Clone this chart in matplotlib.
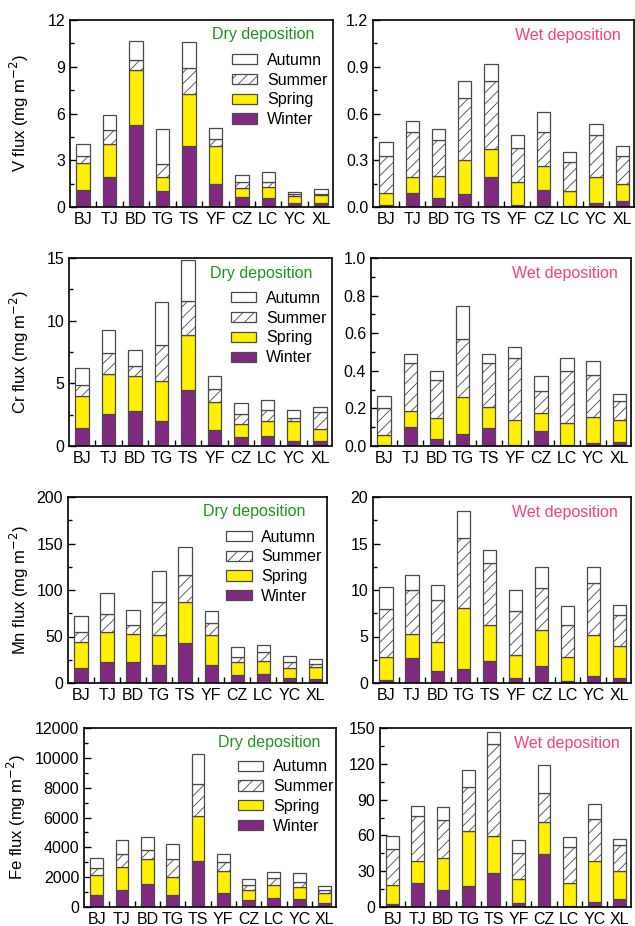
import numpy as np
import matplotlib
matplotlib.use("Agg")
import matplotlib.pyplot as plt
from matplotlib.patches import Patch

plt.rcParams['font.family'] = ['Liberation Sans', 'DejaVu Sans']
plt.rcParams['hatch.linewidth'] = 0.6
plt.rcParams['hatch.color'] = '#333333'

sites = ["BJ", "TJ", "BD", "TG", "TS", "YF", "CZ", "LC", "YC", "XL"]
seasons = ["Winter", "Spring", "Summer", "Autumn"]

# V flux
v_dry_winter = [1.11, 1.92, 5.27, 1.05, 3.91, 1.49, 0.64, 0.56, 0.28, 0.28]
v_dry_spring = [1.71, 2.12, 3.51, 0.85, 3.31, 2.42, 0.58, 0.72, 0.42, 0.49]
v_dry_summer = [0.47, 0.89, 0.64, 0.85, 1.68, 0.45, 0.38, 0.30, 0.13, 0.08]
v_dry_autumn = [0.77, 0.99, 1.24, 2.25, 1.71, 0.68, 0.45, 0.64, 0.15, 0.30]
v_wet_winter = [0.01, 0.09, 0.06, 0.086, 0.19, 0.013, 0.11, 0.006, 0.028, 0.04]
v_wet_spring = [0.08, 0.10, 0.14, 0.214, 0.18, 0.147, 0.15, 0.094, 0.162, 0.11]
v_wet_summer = [0.24, 0.29, 0.23, 0.40, 0.44, 0.22, 0.22, 0.19, 0.27, 0.18]
v_wet_autumn = [0.09, 0.07, 0.07, 0.11, 0.11, 0.085, 0.13, 0.06, 0.07, 0.06]

# Cr flux
cr_dry_winter = [1.47, 2.56, 2.77, 1.97, 4.45, 1.28, 0.69, 0.80, 0.43, 0.43]
cr_dry_spring = [2.55, 3.22, 2.80, 3.20, 4.40, 2.21, 1.10, 1.17, 1.60, 0.96]
cr_dry_summer = [0.83, 1.68, 0.80, 2.88, 2.74, 1.04, 0.74, 0.88, 0.23, 1.35]
cr_dry_autumn = [1.36, 1.79, 1.28, 3.43, 3.22, 1.07, 0.88, 0.80, 0.62, 0.40]
cr_wet_winter = [0.007, 0.10, 0.036, 0.062, 0.096, 0.007, 0.082, 0.007, 0.016, 0.02]
cr_wet_spring = [0.053, 0.087, 0.114, 0.198, 0.114, 0.133, 0.092, 0.113, 0.14, 0.12]
cr_wet_summer = [0.14, 0.253, 0.20, 0.31, 0.23, 0.33, 0.121, 0.28, 0.221, 0.10]
cr_wet_autumn = [0.065, 0.05, 0.05, 0.176, 0.047, 0.054, 0.075, 0.067, 0.073, 0.034]

# Mn flux
mn_dry_winter = [16.6, 22.3, 23.1, 19.1, 43.2, 19.1, 9.0, 10.1, 5.8, 4.7]
mn_dry_spring = [27.7, 32.8, 29.9, 32.1, 43.6, 32.8, 13.7, 14.0, 10.8, 13.0]
mn_dry_summer = [10.8, 18.8, 9.0, 36.0, 28.9, 13.0, 5.4, 8.7, 6.1, 2.5]
mn_dry_autumn = [16.6, 23.4, 16.6, 32.8, 30.2, 12.9, 10.8, 8.3, 6.5, 5.7]
mn_wet_winter = [0.36, 2.74, 1.33, 1.55, 2.41, 0.54, 1.87, 0.25, 0.76, 0.54]
mn_wet_spring = [2.45, 2.52, 3.07, 6.49, 3.86, 2.45, 3.86, 2.56, 4.43, 3.42]
mn_wet_summer = [5.19, 4.79, 4.57, 7.56, 6.63, 4.79, 4.47, 3.46, 5.58, 3.39]
mn_wet_autumn = [2.27, 1.52, 1.52, 2.89, 1.41, 2.20, 2.27, 2.05, 1.70, 1.08]

# Fe flux
fe_dry_winter = [808, 1144, 1548, 808, 3096, 942, 471, 583, 516, 292]
fe_dry_spring = [1323, 1525, 1660, 1188, 3028, 1458, 695, 875, 807, 650]
fe_dry_summer = [494, 898, 628, 1189, 2153, 606, 314, 471, 359, 202]
fe_dry_autumn = [650, 919, 875, 1032, 1997, 561, 404, 426, 584, 247]
fe_wet_winter = [2.5, 20.4, 14.2, 17.6, 28.5, 3.4, 44.4, 0.8, 4.2, 7.0]
fe_wet_spring = [15.7, 17.9, 26.6, 46.4, 31.0, 19.8, 26.5, 19.3, 34.6, 22.9]
fe_wet_summer = [30.4, 37.7, 32.4, 36.3, 77.1, 22.3, 24.4, 30.5, 34.9, 21.8]
fe_wet_autumn = [11.2, 8.6, 10.6, 14.8, 10.0, 10.9, 23.7, 7.8, 12.6, 5.3]

# (data, element, ymax, major step)
panels = [
    ([v_dry_winter, v_dry_spring, v_dry_summer, v_dry_autumn], "V", 12, 3),
    ([v_wet_winter, v_wet_spring, v_wet_summer, v_wet_autumn], None, 1.2, 0.3),
    ([cr_dry_winter, cr_dry_spring, cr_dry_summer, cr_dry_autumn], "Cr", 15, 5),
    ([cr_wet_winter, cr_wet_spring, cr_wet_summer, cr_wet_autumn], None, 1.0, 0.2),
    ([mn_dry_winter, mn_dry_spring, mn_dry_summer, mn_dry_autumn], "Mn", 200, 50),
    ([mn_wet_winter, mn_wet_spring, mn_wet_summer, mn_wet_autumn], None, 20, 5),
    ([fe_dry_winter, fe_dry_spring, fe_dry_summer, fe_dry_autumn], "Fe", 12000, 2000),
    ([fe_wet_winter, fe_wet_spring, fe_wet_summer, fe_wet_autumn], None, 150, 30),
]

face = ['#7f2a80', '#fff000', 'white', 'white']
hatch = [None, None, '///', None]
edge = '#4a4a4a'

W, H = 635, 926
fig = plt.figure(figsize=(W / 100, H / 100), dpi=100)

# axes boxes in pixels: (left, top, right, bottom)
boxes = [
    (70, 20, 333, 207), (373, 20, 634, 207),
    (69, 258, 332, 446), (371, 258, 631, 446),
    (68, 497, 327, 683), (373, 497, 631, 683),
    (84, 728, 336, 907), (380, 728, 631, 907),
]
legend_x = [0.615, 0.615, 0.61, 0.61]
dry_x = [0.735, 0.73, 0.72, 0.735]
ylab_px = [31, 31, 31, 28]

x = np.arange(len(sites))
for i, (data, el, ymax, step) in enumerate(panels):
    r = i // 2
    l, t, rt, b = boxes[i]
    ax = fig.add_axes([l / W, 1 - b / H, (rt - l) / W, (b - t) / H])
    bottom = np.zeros(len(sites))
    handles = []
    for k in range(4):
        vals = np.array(data[k], dtype=float)
        ax.bar(x, vals, 0.51, bottom=bottom, color=face[k], edgecolor=edge,
               linewidth=0.9, hatch=hatch[k], zorder=2)
        bottom += vals
        handles.append(Patch(facecolor=face[k], edgecolor=edge, linewidth=0.9,
                             hatch=hatch[k], label=seasons[k]))
    ax.set_xlim(-0.5, 9.45)
    ax.set_ylim(0, ymax)
    ax.set_yticks(np.arange(0, ymax + step / 2, step))
    ax.set_yticks(np.arange(step / 2, ymax, step), minor=True)
    if ymax < 2:
        ax.yaxis.set_major_formatter(matplotlib.ticker.FormatStrFormatter('%.1f'))
    ax.set_xticks(x)
    ax.set_xticklabels(sites)
    ax.set_xticks(x[:-1] + 0.5, minor=True)
    ax.tick_params(axis='x', which='major', length=0, labelsize=11.5, pad=3.5)
    ax.tick_params(axis='x', which='minor', direction='in', length=4, width=1, top=False)
    ax.tick_params(axis='y', which='major', direction='in', length=5, width=1, labelsize=11.5)
    ax.tick_params(axis='y', which='minor', direction='in', length=3, width=1)
    for s in ax.spines.values():
        s.set_linewidth(1.2)
    if el:
        ax.set_ylabel(el + " flux (mg m$^{-2}$)", fontsize=12)
        ax.yaxis.set_label_coords((ylab_px[r] - l) / (rt - l), 0.5)
        ax.text(dry_x[r], 0.92, "Dry deposition", color='#1e961e', fontsize=11.5,
                transform=ax.transAxes, ha='center', va='center')
        ax.legend(handles[::-1], [h.get_label() for h in handles[::-1]],
                  loc='upper left', bbox_to_anchor=(legend_x[r], 0.825),
                  frameon=False, fontsize=11.5, handlelength=1.6, handleheight=0.6,
                  handletextpad=0.6, labelspacing=0.3, borderpad=0, borderaxespad=0)
    else:
        ax.text(0.745, 0.915, "Wet deposition", color='#ff3d80', fontsize=11.5,
                transform=ax.transAxes, ha='center', va='center')

fig.savefig("out.png", dpi=100)
